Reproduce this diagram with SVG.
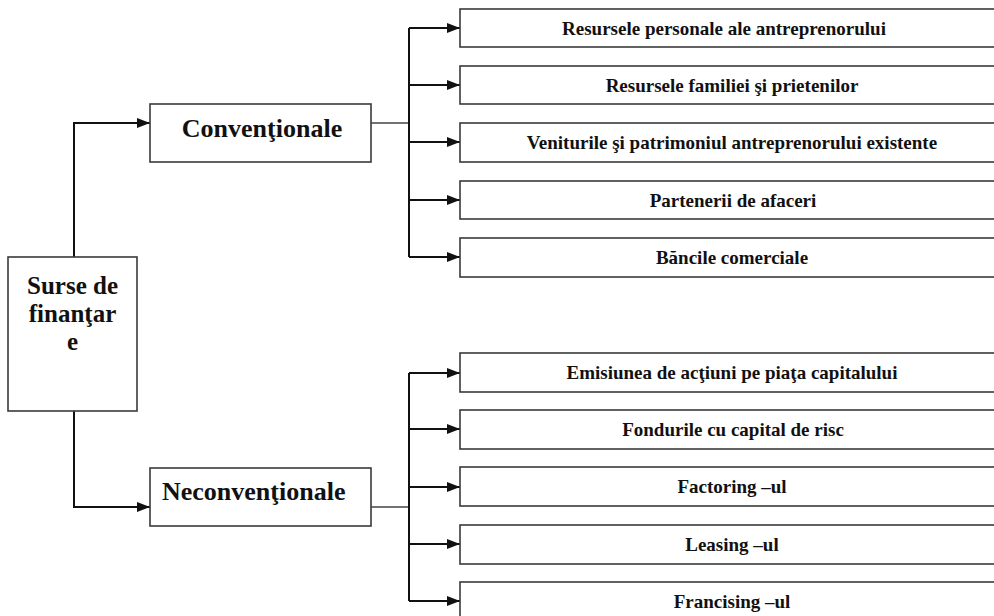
<svg xmlns="http://www.w3.org/2000/svg" width="994" height="616" viewBox="0 0 994 616">
<style>
.box{fill:#fff;stroke:#3a3a3a;stroke-width:1.6}
.t{font-family:"Liberation Serif","Times New Roman",serif;font-weight:bold;fill:#111}
.s{font-size:19px;text-anchor:middle}
.c{stroke:#111;stroke-width:2;fill:none}
.g{stroke:#444;stroke-width:1.6;fill:none}
</style>
<defs>
<marker id="ah" markerUnits="userSpaceOnUse" markerWidth="13" markerHeight="10" refX="13" refY="5" orient="auto">
<path d="M0,0 L13,5 L0,10 z" fill="#111"/>
</marker>
</defs>
<rect width="994" height="616" fill="#fff"/>
<g id="connectors">
<path class="c" d="M74,257 V123 H150" marker-end="url(#ah)"/>
<path class="c" d="M74,411 V507 H150" marker-end="url(#ah)"/>
<path class="g" d="M371,123 H409"/>
<path class="g" d="M371,507 H409"/>
<path class="c" d="M409,28 V257"/>
<path class="c" d="M409,373 V601"/>
<path class="c" d="M409,28 H460" marker-end="url(#ah)"/>
<path class="c" d="M409,85 H460" marker-end="url(#ah)"/>
<path class="c" d="M409,142 H460" marker-end="url(#ah)"/>
<path class="c" d="M409,200 H460" marker-end="url(#ah)"/>
<path class="c" d="M409,257 H460" marker-end="url(#ah)"/>
<path class="c" d="M409,373 H460" marker-end="url(#ah)"/>
<path class="c" d="M409,429 H460" marker-end="url(#ah)"/>
<path class="c" d="M409,487 H460" marker-end="url(#ah)"/>
<path class="c" d="M409,544 H460" marker-end="url(#ah)"/>
<path class="c" d="M409,601 H460" marker-end="url(#ah)"/>
</g>
<g id="surse">
<rect class="box" x="8" y="257" width="129" height="154"/>
<text class="t" font-size="25" text-anchor="middle" x="72.5" y="294">Surse de</text>
<text class="t" font-size="25" text-anchor="middle" x="72.5" y="322">finanţar</text>
<text class="t" font-size="25" text-anchor="middle" x="72.5" y="350">e</text>
</g>
<g id="conventionale">
<rect class="box" x="150" y="104" width="221" height="58"/>
<text class="t" font-size="26" text-anchor="middle" x="262" y="137">Convenţionale</text>
</g>
<g id="neconventionale">
<rect class="box" x="150" y="468" width="221" height="58"/>
<text class="t" font-size="26" x="162" y="500">Neconvenţionale</text>
</g>
<g id="c1"><rect class="box" x="460" y="9" width="560" height="38"/><text class="t s" x="724" y="35">Resursele personale ale antreprenorului</text></g>
<g id="c2"><rect class="box" x="460" y="66" width="560" height="38"/><text class="t s" x="732" y="92">Resursele familiei şi prietenilor</text></g>
<g id="c3"><rect class="box" x="460" y="123" width="560" height="39"/><text class="t s" x="732" y="149">Veniturile şi patrimoniul antreprenorului existente</text></g>
<g id="c4"><rect class="box" x="460" y="181" width="560" height="38"/><text class="t s" x="733" y="207">Partenerii de afaceri</text></g>
<g id="c5"><rect class="box" x="460" y="238" width="560" height="39"/><text class="t s" x="732" y="264">Băncile comerciale</text></g>
<g id="n1"><rect class="box" x="460" y="353" width="560" height="39"/><text class="t s" x="732" y="379">Emisiunea de acţiuni pe piaţa capitalului</text></g>
<g id="n2"><rect class="box" x="460" y="410" width="560" height="39"/><text class="t s" x="733" y="436">Fondurile cu capital de risc</text></g>
<g id="n3"><rect class="box" x="460" y="467" width="560" height="39"/><text class="t s" x="732" y="493">Factoring –ul</text></g>
<g id="n4"><rect class="box" x="460" y="525" width="560" height="39"/><text class="t s" x="732" y="551">Leasing –ul</text></g>
<g id="n5"><rect class="box" x="460" y="582" width="560" height="39"/><text class="t s" x="732" y="608">Francising –ul</text></g>
</svg>
